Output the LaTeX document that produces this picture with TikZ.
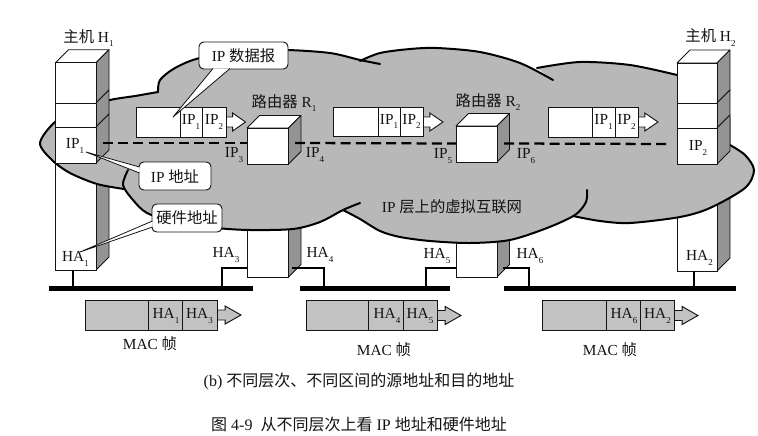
\documentclass[tikz,border=0pt]{standalone}
\usepackage{fontspec}
\setmainfont{Liberation Serif}
\newfontfamily\cjk{Noto Sans CJK SC}
\newcommand\sbs[2]{#1\raisebox{-0.28em}{\fontsize{6.8}{7}\selectfont #2}}
\definecolor{cloudgray}{gray}{0.72}
\definecolor{sidegray}{gray}{0.58}
\definecolor{framegray}{gray}{0.76}
\definecolor{ink}{gray}{0.08}
\tikzset{
  sideface/.style={fill=sidegray,draw=ink,line width=0.6pt,line join=round},
  frontface/.style={fill=white,draw=ink,line width=0.6pt},
  cloudline/.style={draw=black,line width=1.5pt,line cap=round},
  lab/.style={inner sep=0pt,text=ink,font=\fontsize{11.5}{12}\selectfont},
  callout/.style={draw=ink,fill=white,rounded corners=3.5pt,line width=0.7pt,inner sep=0pt,text=ink,font=\fontsize{11.5}{12}\selectfont},
  calloutline/.style={draw=ink,line width=0.6pt},
  bus/.style={line width=3.2pt,draw=black},
  tap/.style={line width=1.5pt,draw=black,line join=miter},
  virt/.style={line width=1.7pt,draw=black,dash pattern=on 7.5pt off 3.9pt},
  cell/.style={draw=ink,line width=0.6pt},
  flow/.style={draw=ink,line width=0.7pt,line join=miter},
  captext/.style={inner sep=0pt,text=ink,font=\fontsize{12}{13}\selectfont}
}
% left, right, top, bottom, depth
\newcommand\threed[5]{%
  \path[sideface] (#2,#3) -- ++(#5,-#5) -- ({#2+#5},{#4-#5}) -- (#2,#4) -- cycle;
  \path[frontface] (#1,#3) rectangle (#2,#4);}
\newcommand\threedtop[5]{%
  \path[frontface,line join=round] (#1,#3) -- ++(#5,-#5) -- ({#2+#5},{#3-#5}) -- (#2,#3) -- cycle;
  \threed{#1}{#2}{#3}{#4}{#5}}
% start x, centre y, length, fill
\newcommand\flowarrow[4]{%
  \path[flow,fill=#4] (#1,{#2-5}) -- ({#1+0.34*#3},{#2-5}) -- ({#1+0.34*#3},{#2-9}) -- ({#1+#3},#2) -- ({#1+0.34*#3},{#2+9}) -- ({#1+0.34*#3},{#2+5}) -- (#1,{#2+5});}
% x0 d1 d2 x3 y0 y1 fill
\newcommand\frameblock[7]{%
  \path[cell,fill=#7] (#1,#5) rectangle (#4,#6);
  \draw[cell] (#2,#5) -- (#2,#6) (#3,#5) -- (#3,#6);}
\def\cA{(124,189) (97,184) (70,173) (52,160) (40,143) (55,122) (80,109) (110,100) (135,96) (158,92)}
\def\cB{(158,92) (160,80) (175,68) (200,58) (250,51) (287,50) (330,53) (360,60) (380,64)}
\def\cC{(360,61) (380,53) (410,49) (437,48) (480,52) (520,63) (553,80)}
\def\cD{(537,68) (580,62) (630,65) (677,75)}
\def\cE{(730,145) (745,155) (754,170) (745,188) (710,208) (680,217) (630,223) (600,221) (573,216)}
\def\cF{(587,190) (586,202) (575,215) (547,228) (510,240) (470,243) (430,241) (400,237) (380,231) (360,219) (343,210)}
\def\cG{(360,203) (343,210) (320,222) (293,229) (250,230) (217,228) (175,222) (147,213) (133,200) (123,185) (128,170)}
\begin{document}
\begin{tikzpicture}[x=0.75pt,y=-0.75pt]
\fill[white] (0,0) rectangle (758,436);
\useasboundingbox (0,0) rectangle (758,436);
% lower columns
\threed{55.5}{96}{130}{270}{13}
\threed{247}{288.5}{140}{277}{12.5}
\threed{456}{497}{140}{277}{12.5}
\threed{677}{717}{130}{271}{13}
% cloud
\fill[cloudgray] plot[smooth] coordinates {\cA} -- plot[smooth] coordinates {\cB} -- plot[smooth] coordinates {\cC} -- plot[smooth] coordinates {\cD} -- plot[smooth] coordinates {\cE} -- plot[smooth] coordinates {\cF} -- plot[smooth] coordinates {\cG} -- cycle;
\draw[cloudline] plot[smooth] coordinates {\cA};
\draw[cloudline] plot[smooth] coordinates {\cB};
\draw[cloudline] plot[smooth] coordinates {\cC};
\draw[cloudline] plot[smooth] coordinates {\cD};
\draw[cloudline] plot[smooth] coordinates {\cE};
\draw[cloudline] plot[smooth] coordinates {\cF};
\draw[cloudline] plot[smooth] coordinates {\cG};
% hosts, upper parts
\threedtop{55.5}{96}{62.7}{103}{13}
\threed{55.5}{96}{103}{127}{13}
\threed{55.5}{96}{127}{163}{13}
\threedtop{677}{717}{63}{103}{13}
\threed{677}{717}{103}{128}{13}
\threed{677}{717}{128}{164}{13}
% routers
\threedtop{247}{288.5}{128}{164}{12.5}
\threedtop{456}{497}{126}{162}{12.5}
% network layer dashed line
\coordinate (vh1) at (103,143);
\coordinate (vr1l) at (247,143);
\coordinate (vr1r) at (295,143);
\coordinate (vr2l) at (456,143.5);
\coordinate (vr2r) at (504,143.5);
\coordinate (vh2) at (670,144);
\draw[virt] (vh1) -- (vr1l);
\draw[virt] (vr1r) -- (vr2l);
\draw[virt] (vr2r) -- (vh2);
% buses
\coordinate (b1l) at (49,288.5); \coordinate (b1r) at (253,288.5);
\coordinate (b2l) at (300,288.5); \coordinate (b2r) at (450,288.5);
\coordinate (b3l) at (504,288.5); \coordinate (b3r) at (736,288.5);
\draw[bus] (b1l) -- (b1r);
\draw[bus] (b2l) -- (b2r);
\draw[bus] (b3l) -- (b3r);
% taps
\coordinate (ha1p) at (73,270); \coordinate (ha1b) at (73,288.5);
\coordinate (ha3p) at (247,268); \coordinate (ha3b) at (222,288.5);
\coordinate (ha4p) at (292,268); \coordinate (ha4b) at (324,288.5);
\coordinate (ha5p) at (456,267.5); \coordinate (ha5b) at (426,288.5);
\coordinate (ha6p) at (503,267.5); \coordinate (ha6b) at (528.5,288.5);
\coordinate (ha2p) at (694,271); \coordinate (ha2b) at (694,288.5);
\draw[tap] (ha1p) -- (ha1b);
\draw[tap] (ha3p) -| (ha3b);
\draw[tap] (ha4p) -| (ha4b);
\draw[tap] (ha5p) -| (ha5b);
\draw[tap] (ha6p) -| (ha6b);
\draw[tap] (ha2p) -- (ha2b);
% IP datagrams
\flowarrow{226}{122}{19.5}{white}
\frameblock{136.5}{180}{202}{226}{107}{137}{white}
\flowarrow{423}{122}{20}{white}
\frameblock{333.5}{378}{400}{423}{107}{136.5}{white}
\flowarrow{638}{122}{20}{white}
\frameblock{548}{592}{615}{638}{107}{137}{white}
\node[lab] (p1a) at (191,122) {\sbs{IP}{1}};
\node[lab] (p1b) at (214,122) {\sbs{IP}{2}};
\node[lab] (p2a) at (389,121.5) {\sbs{IP}{1}};
\node[lab] (p2b) at (411.5,121.5) {\sbs{IP}{2}};
\node[lab] (p3a) at (603.5,122) {\sbs{IP}{1}};
\node[lab] (p3b) at (626.5,122) {\sbs{IP}{2}};
% MAC frames
\flowarrow{217}{315}{24}{framegray}
\frameblock{85}{148}{182}{217}{300}{330}{framegray}
\flowarrow{437}{315.5}{24}{framegray}
\frameblock{306}{368.5}{403}{437}{300.5}{330.5}{framegray}
\flowarrow{674}{315.5}{24}{framegray}
\frameblock{542}{606}{640}{674}{300.5}{330.5}{framegray}
\node[lab] (f1a) at (166,316) {\sbs{HA}{1}};
\node[lab] (f1b) at (199.5,316) {\sbs{HA}{3}};
\node[lab] (f2a) at (387,316) {\sbs{HA}{4}};
\node[lab] (f2b) at (420,316) {\sbs{HA}{5}};
\node[lab] (f3a) at (624,316) {\sbs{HA}{6}};
\node[lab] (f3b) at (657.5,316) {\sbs{HA}{2}};
% titles
\node[lab] (h1) at (88.5,38) {{\cjk 主机} \sbs{H}{1}};
\node[lab] (h2) at (710.5,37.5) {{\cjk 主机} \sbs{H}{2}};
\node[lab] (r1) at (284,103) {{\cjk 路由器} \sbs{R}{1}};
\node[lab] (r2) at (488,102) {{\cjk 路由器} \sbs{R}{2}};
\node[lab] (ip1) at (75,146) {\sbs{IP}{1}};
\node[lab] (ip2) at (698,148) {\sbs{IP}{2}};
\node[lab] (ip3) at (234,155) {\sbs{IP}{3}};
\node[lab] (ip4) at (315,155) {\sbs{IP}{4}};
\node[lab] (ip5) at (443,156) {\sbs{IP}{5}};
\node[lab] (ip6) at (526,156) {\sbs{IP}{6}};
\node[lab] (ha1) at (75.5,259) {\sbs{HA}{1}};
\node[lab] (ha3) at (226,255) {\sbs{HA}{3}};
\node[lab] (ha4) at (320,255) {\sbs{HA}{4}};
\node[lab] (ha5) at (437,256) {\sbs{HA}{5}};
\node[lab] (ha6) at (530,256) {\sbs{HA}{6}};
\node[lab] (ha2) at (699.5,258) {\sbs{HA}{2}};
\node[lab] (m1) at (150,344) {MAC {\cjk 帧}};
\node[lab] (m2) at (384,350) {MAC {\cjk 帧}};
\node[lab] (m3) at (610,350) {MAC {\cjk 帧}};
\node[lab] (vnet) at (452,207) {IP {\cjk 层上的虚拟互联网}};
% callouts
\node[callout,minimum width=66.75pt,minimum height=20.25pt] (cdg) at (243.5,55.5) {IP {\cjk 数据报}};
\node[callout,minimum width=54pt,minimum height=21pt] (cip) at (175,176) {IP {\cjk 地址}};
\node[callout,minimum width=52.5pt,minimum height=21pt] (cha) at (187,218) {\fontsize{11.5}{12}\selectfont\cjk 硬件地址};
\coordinate (tdg) at (173,117);
\coordinate (tip) at (86,152);
\coordinate (tha) at (80,252);
\coordinate (a1) at (213,68.5); \coordinate (a2) at (230,68.5);
\coordinate (b1) at (139.5,167); \coordinate (b2) at (139.5,173);
\coordinate (c1) at (152.5,221); \coordinate (c2) at (152.5,227);
\fill[white] (a1) -- (tdg) -- (a2) -- cycle;
\draw[calloutline] (a1) -- (tdg) -- (a2);
\fill[white] (b1) -- (tip) -- (b2) -- cycle;
\draw[calloutline] (b1) -- (tip) -- (b2);
\fill[white] (c1) -- (tha) -- (c2) -- cycle;
\draw[calloutline] (c1) -- (tha) -- (c2);
% captions
\node[captext] (cap1) at (359,381) {(b) {\cjk 不同层次、不同区间的源地址和目的地址}};
\node[captext] (cap2) at (359,424) {{\cjk 图} 4-9\ \ {\cjk 从不同层次上看} IP {\cjk 地址和硬件地址}};
\end{tikzpicture}
\end{document}
